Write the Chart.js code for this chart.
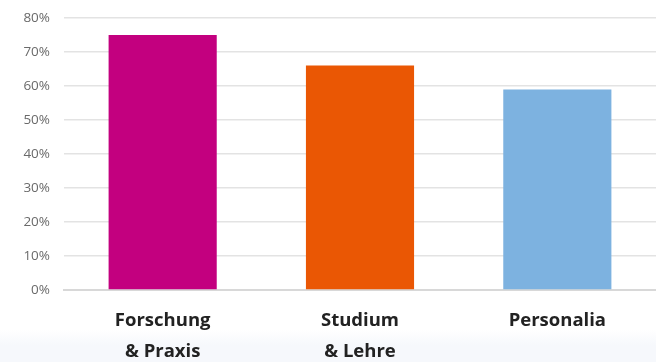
<!DOCTYPE html>
<html>
<head>
<meta charset="utf-8">
<script src="https://cdn.jsdelivr.net/npm/chart.js@4/dist/chart.umd.min.js"></script>
<style>
  html, body { margin: 0; padding: 0; }
  body { width: 656px; height: 362px; background: linear-gradient(to bottom, #ffffff 0px, #ffffff 330px, #f6f8fc 345px, #f6f8fc 362px); }
  #wrap { width: 656px; height: 362px; position: relative; }
</style>
</head>
<body>
<div id="wrap"><canvas id="myChart"></canvas></div>
<script>
var categories = [["Forschung", "& Praxis"], ["Studium", "& Lehre"], ["Personalia"]];
var shares = [75, 66, 59];
var barColors = ["#c3007f", "#ea5704", "#7db2e0"];

var chartdata = {
    labels: categories,
    datasets: [
        {
            data: shares,
            backgroundColor: barColors,
            categoryPercentage: 1,
            barPercentage: 0.548
        }
    ]
};

new Chart(document.getElementById("myChart"), {
    type: 'bar',
    data: chartdata,
    options: {
        responsive: true,
        maintainAspectRatio: false,
        animation: false,
        layout: { padding: { top: 18, right: 0, bottom: 0, left: 0 } },
        plugins: {
            legend: { display: false },
            tooltip: { enabled: false }
        },
        scales: {
            x: {
                grid: { display: false },
                border: { color: '#d8d8d8', width: 2 },
                ticks: {
                    color: '#222222',
                    padding: 7,
                    font: { family: 'Open Sans', size: 18.5, weight: 'bold', lineHeight: 1.68 }
                },
                afterFit: function (scale) { scale.height = 72; }
            },
            y: {
                min: 0,
                max: 80,
                border: { display: false },
                grid: { color: '#e3e3e3', lineWidth: 1.5, drawTicks: false },
                ticks: {
                    stepSize: 10,
                    color: '#6a6a6a',
                    padding: 14,
                    font: { family: 'Open Sans', size: 13.5 },
                    callback: function (v) { return v + '%'; }
                },
                afterFit: function (scale) {
                    scale.width = 64;
                    scale.paddingTop = 0;
                    scale.paddingBottom = 0;
                }
            }
        }
    }
});
</script>
</body>
</html>
